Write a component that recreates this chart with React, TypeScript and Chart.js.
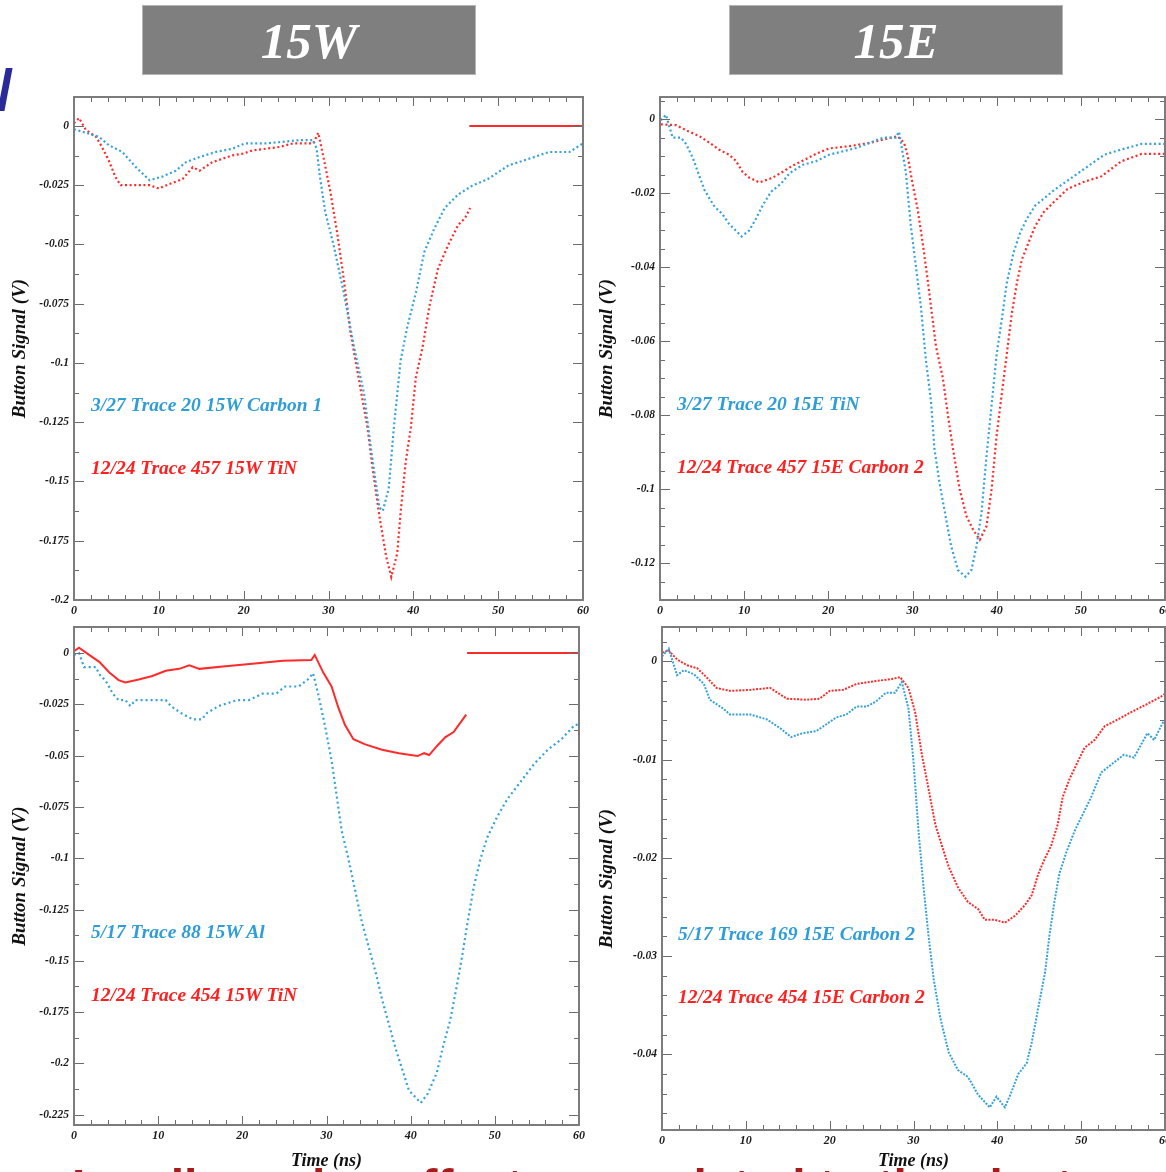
import React, { useEffect, useRef } from 'react';
import { Chart, registerables } from 'chart.js';

Chart.register(...registerables);

type Pt = [number, number];

// ---------- tick / axis values ----------
const TIME_MIN = 0;
const TIME_MAX = 60;
const TIME_STEP = 10;
const TIME_MINOR = 2;
const X_TITLE = 'Time (ns)';
const Y_TITLE = 'Button Signal (V)';
const HEADERS = ['15W', '15E'];

// ---------- 15W, top panel ----------
const tlBlue: Pt[] = [
  [0, -0.0014], [2.95, -0.0046], [4.1, -0.0081], [5.7, -0.011], [7.3, -0.0174], [8.9, -0.0229],
  [10.4, -0.0214], [12.0, -0.0189], [13.2, -0.0153], [14.8, -0.0131], [16.7, -0.011], [18.7, -0.0096],
  [20.1, -0.0074], [22.6, -0.0074], [24.6, -0.0067], [26.6, -0.006], [28.2, -0.006], [28.6, -0.0096],
  [29.0, -0.0217], [29.6, -0.036], [30.6, -0.0503], [31.8, -0.0703], [33.0, -0.0931], [34.2, -0.1131],
  [35.0, -0.136], [36.0, -0.161], [36.4, -0.1624], [37.1, -0.153], [37.7, -0.1274], [38.5, -0.0989],
  [39.3, -0.0846], [40.3, -0.0703], [41.3, -0.0531], [42.5, -0.0431], [43.7, -0.0346], [45.3, -0.0289],
  [46.9, -0.0253], [48.8, -0.0224], [51.2, -0.0167], [53.6, -0.0139], [56.0, -0.011], [58.4, -0.011],
  [60, -0.0074],
];
const tlRed: Pt[] = [
  [0, 0.0011], [0.6, 0.0033], [1.4, -0.0017], [2.6, -0.0046], [3.3, -0.0089], [4.1, -0.0146],
  [4.9, -0.0217], [5.5, -0.025], [8.9, -0.025], [10.0, -0.0264], [11.2, -0.0246], [12.8, -0.0224],
  [14.0, -0.0174], [14.8, -0.0189], [16.3, -0.0153], [18.7, -0.0124], [19.9, -0.0117], [21.1, -0.0103],
  [24.2, -0.0089], [25.8, -0.0074], [28.2, -0.0074], [28.8, -0.0029], [29.4, -0.0131], [30.2, -0.0274],
  [31.0, -0.0446], [31.8, -0.0646], [32.6, -0.0874], [33.6, -0.1074], [34.6, -0.1274], [35.2, -0.1446],
  [36.0, -0.1646], [36.8, -0.1817], [37.4, -0.1903], [38.1, -0.1803], [38.5, -0.1631], [39.1, -0.1417],
  [39.7, -0.1274], [40.3, -0.106], [41.1, -0.0931], [41.9, -0.076], [42.9, -0.0603], [44.1, -0.0503],
  [45.3, -0.0417], [46.1, -0.0389], [46.7, -0.0346],
];
const tlRedBaseline: Pt[] = [[46.6, 0], [60, 0]];

// ---------- 15E, top panel ----------
const trBlue: Pt[] = [
  [0.1, -0.0003], [0.7, 0.0012], [1.5, -0.005], [2.5, -0.005], [3.1, -0.0067], [3.9, -0.0105],
  [4.7, -0.0155], [5.3, -0.0192], [5.9, -0.0215], [6.5, -0.0237], [7.4, -0.0256], [8.2, -0.0283],
  [9.0, -0.0301], [9.7, -0.0317], [10.6, -0.0301], [11.4, -0.0269], [12.2, -0.0233], [13.2, -0.0196],
  [14.4, -0.0174], [15.4, -0.0146], [17.0, -0.0123], [18.5, -0.0114], [20.1, -0.0096], [23.3, -0.0078],
  [26.5, -0.005], [28.0, -0.005], [28.4, -0.0034], [29.2, -0.0142], [29.8, -0.0288], [30.4, -0.0397],
  [31.0, -0.0507], [31.6, -0.0653], [32.2, -0.0763], [32.6, -0.089], [33.2, -0.0982], [34.0, -0.1082],
  [34.6, -0.1155], [35.4, -0.1219], [36.3, -0.1237], [37.0, -0.1219], [37.6, -0.1155], [38.2, -0.1064],
  [38.8, -0.0909], [39.4, -0.0772], [40.0, -0.0635], [40.6, -0.0543], [41.2, -0.0443], [42.0, -0.0361],
  [42.8, -0.0306], [43.6, -0.0269], [44.6, -0.0233], [45.6, -0.0215], [46.8, -0.0192], [48.8, -0.016],
  [50.8, -0.0128], [52.8, -0.0096], [54.8, -0.0082], [57.2, -0.0067], [60, -0.0067],
];
const trRed: Pt[] = [
  [0.1, -0.0014], [1.9, -0.0016], [3.3, -0.0032], [4.7, -0.0046], [5.9, -0.0064], [7.0, -0.0082],
  [8.2, -0.0096], [9.0, -0.0112], [9.8, -0.0142], [10.6, -0.0158], [11.8, -0.0171], [13.4, -0.0158],
  [14.6, -0.0142], [15.8, -0.0125], [17.0, -0.0112], [18.5, -0.0094], [20.1, -0.0079], [22.5, -0.0073],
  [24.9, -0.0064], [28.2, -0.0046], [29.0, -0.0064], [29.4, -0.0096], [30.0, -0.0174], [30.6, -0.0242],
  [31.2, -0.0333], [31.8, -0.0434], [32.2, -0.0507], [32.8, -0.0616], [33.6, -0.0699], [34.2, -0.0799],
  [34.8, -0.089], [35.6, -0.1], [36.4, -0.1073], [37.2, -0.111], [38.0, -0.1137], [38.8, -0.11],
  [39.4, -0.1], [40.0, -0.0854], [40.6, -0.0744], [41.2, -0.0635], [41.8, -0.0525], [42.4, -0.0443],
  [43.0, -0.0379], [43.8, -0.0333], [44.6, -0.0288], [45.6, -0.0251], [46.8, -0.0224], [48.4, -0.0189],
  [50.4, -0.0169], [52.4, -0.0155], [54.8, -0.0114], [57.2, -0.0094], [60, -0.0094],
];

// ---------- 15W, bottom panel ----------
const blBlue: Pt[] = [
  [0, -0.0009], [0.6, 0], [1.2, -0.0069], [2.6, -0.0069], [3.0, -0.0103], [3.8, -0.0137],
  [4.6, -0.0198], [5.3, -0.0229], [6.1, -0.0229], [6.7, -0.0258], [7.3, -0.0229], [10.9, -0.0229],
  [11.5, -0.0258], [12.7, -0.0292], [14.1, -0.0323], [15.2, -0.0323], [15.8, -0.0292], [17.2, -0.0258],
  [19.4, -0.0229], [20.8, -0.0229], [22.4, -0.0198], [24.0, -0.0198], [25.1, -0.0163], [26.7, -0.0163],
  [27.8, -0.0128], [28.4, -0.0098], [29.0, -0.0197], [29.8, -0.0351], [30.6, -0.0522], [31.2, -0.0693],
  [31.8, -0.0865], [32.6, -0.1002], [33.4, -0.1156], [34.2, -0.131], [35.0, -0.143], [35.8, -0.155],
  [36.6, -0.1687], [37.4, -0.1807], [38.2, -0.1926], [39.0, -0.2029], [39.8, -0.2132], [40.6, -0.2166],
  [41.2, -0.2192], [42.0, -0.2149], [43.1, -0.2046], [43.9, -0.1909], [44.7, -0.1789], [45.5, -0.1618],
  [46.1, -0.1481], [46.7, -0.1327], [47.5, -0.1139], [48.3, -0.1002], [49.1, -0.0899], [50.3, -0.0796],
  [51.5, -0.0711], [53.1, -0.0625], [54.7, -0.0539], [56.3, -0.0471], [57.9, -0.042], [59.5, -0.0351],
  [60, -0.0348],
];
const blRed: Pt[] = [
  [0, 0.0009], [0.6, 0.0026], [1.8, -0.0009], [3.0, -0.0043], [4.2, -0.0095], [5.3, -0.0132],
  [6.1, -0.0143], [7.7, -0.0129], [9.3, -0.0112], [10.9, -0.0086], [12.5, -0.0077], [13.7, -0.006],
  [14.9, -0.0077], [18.0, -0.0064], [21.2, -0.0052], [24.8, -0.0038], [28.2, -0.0034], [28.6, -0.0009],
  [29.6, -0.0094], [30.6, -0.0163], [31.4, -0.0265], [32.2, -0.0351], [33.2, -0.042], [34.6, -0.0445],
  [36.6, -0.0471], [38.6, -0.0488], [40.8, -0.0502], [41.6, -0.0488], [42.2, -0.0497], [43.1, -0.0454],
  [44.1, -0.0411], [45.1, -0.0385], [46.3, -0.0317], [46.6, -0.03],
];
const blRedBaseline: Pt[] = [[46.7, 0], [60, 0]];

// ---------- 15E, bottom panel ----------
const brBlue: Pt[] = [
  [0, 0.0005], [0.8, 0.0013], [1.8, -0.0014], [2.6, -0.0009], [3.8, -0.0013], [5.0, -0.0023],
  [5.7, -0.0039], [7.3, -0.0048], [8.1, -0.0054], [10.5, -0.0054], [12.5, -0.0059], [14.1, -0.0068],
  [15.4, -0.0077], [16.8, -0.0073], [18.4, -0.0071], [19.6, -0.0064], [20.8, -0.0057], [22.0, -0.0054],
  [23.2, -0.0046], [24.4, -0.0046], [25.5, -0.0041], [26.7, -0.0032], [27.8, -0.0032], [28.6, -0.0021],
  [29.4, -0.0048], [30.0, -0.0102], [30.6, -0.0173], [31.2, -0.023], [31.8, -0.028], [32.4, -0.0323],
  [33.2, -0.0363], [34.2, -0.0398], [35.3, -0.0416], [36.5, -0.0423], [37.7, -0.0441], [39.1, -0.0454],
  [39.9, -0.0443], [40.9, -0.0454], [41.7, -0.0438], [42.5, -0.042], [43.5, -0.0409], [44.1, -0.0388],
  [44.9, -0.0352], [45.7, -0.0316], [46.2, -0.028], [46.8, -0.0245], [47.4, -0.0216], [48.2, -0.0195],
  [49.2, -0.0173], [50.0, -0.0159], [51.2, -0.0138], [52.4, -0.0113], [53.6, -0.0105], [55.1, -0.0095],
  [56.3, -0.0098], [57.9, -0.0073], [58.7, -0.008], [59.7, -0.0063], [60, -0.006],
];
const brRed: Pt[] = [
  [0, 0.0009], [0.8, 0.0011], [1.8, 0.0002], [3.0, -0.0004], [4.2, -0.0007], [5.3, -0.0016],
  [6.5, -0.0027], [8.1, -0.003], [10.5, -0.0029], [12.9, -0.0027], [14.9, -0.0038], [17.2, -0.0039],
  [18.8, -0.0038], [20.0, -0.003], [21.6, -0.0029], [23.2, -0.0023], [25.5, -0.002], [27.4, -0.0018],
  [28.4, -0.0016], [29.4, -0.0027], [30.2, -0.0052], [31.0, -0.0095], [31.8, -0.013], [32.6, -0.0166],
  [33.4, -0.0188], [34.2, -0.0209], [35.3, -0.023], [36.5, -0.0245], [37.7, -0.0252], [38.5, -0.0263],
  [39.7, -0.0263], [40.9, -0.0266], [42.1, -0.0259], [43.3, -0.0248], [44.1, -0.0238], [44.9, -0.0216],
  [45.6, -0.0202], [46.4, -0.0188], [47.2, -0.0166], [47.8, -0.0138], [48.6, -0.012], [49.6, -0.0102],
  [50.4, -0.0088], [51.6, -0.008], [52.8, -0.0066], [54.4, -0.0059], [55.9, -0.0052], [57.5, -0.0045],
  [59.5, -0.0036], [60, -0.0033],
];

// ---------- labels ----------
const tlLabels = ['3/27 Trace 20 15W Carbon 1', '12/24 Trace 457 15W TiN'];
const trLabels = ['3/27 Trace 20 15E TiN', '12/24 Trace 457 15E Carbon 2'];
const blLabels = ['5/17 Trace 88 15W Al', '12/24 Trace 454 15W TiN'];
const brLabels = ['5/17 Trace 169 15E Carbon 2', '12/24 Trace 454 15E Carbon 2'];

// ---------- styles ----------
const SERIF = "'Liberation Serif', 'DejaVu Serif', 'Times New Roman', serif";
const SANS = "'Liberation Sans', Arial, 'DejaVu Sans', sans-serif";
const BLUE = '#35a2da';
const RED = '#ff2a2a';
const TXT_BLUE = '#2f9dd8';
const TXT_RED = '#ff1f1f';

type SeriesSpec = { data: Pt[]; color: string; dash: number[]; width: number };
type PanelSpec = {
  left: number; top: number; width: number; height: number;
  padTop: number; padRight: number; yWidth: number; xHeight: number;
  yMin: number; yMax: number; yStep: number; yMinor: number;
  yTitlePad: number; showXTitle: boolean; xTitlePad: number;
  series: SeriesSpec[];
};

const fmt = (v: number) => {
  if (Math.abs(v) < 1e-12) return '0';
  return String(parseFloat(v.toFixed(4)));
};

const isMultiple = (v: number, step: number) => Math.abs(v / step - Math.round(v / step)) < 1e-6;

const framePlugin = {
  id: 'rootFrame',
  afterDatasetsDraw(chart: any, _args: any, opts: any) {
    const { ctx, chartArea: a } = chart;
    const xs = chart.scales.x;
    const ys = chart.scales.y;
    ctx.save();
    ctx.strokeStyle = '#6c6c6c';
    ctx.lineWidth = 1;
    ctx.beginPath();
    for (let i = Math.ceil(xs.min / opts.xMinor - 1e-6); i * opts.xMinor <= xs.max + 1e-9; i++) {
      const v = i * opts.xMinor;
      const len = isMultiple(v, opts.xMajor) ? 9 : 5;
      const p = Math.round(xs.getPixelForValue(v)) + 0.5;
      ctx.moveTo(p, a.bottom); ctx.lineTo(p, a.bottom - len);
      ctx.moveTo(p, a.top); ctx.lineTo(p, a.top + len);
    }
    for (let i = Math.ceil(ys.min / opts.yMinor - 1e-6); i * opts.yMinor <= ys.max + 1e-9; i++) {
      const v = i * opts.yMinor;
      const len = isMultiple(v, opts.yMajor) ? 10 : 5;
      const p = Math.round(ys.getPixelForValue(v)) + 0.5;
      ctx.moveTo(a.left, p); ctx.lineTo(a.left + len, p);
      ctx.moveTo(a.right, p); ctx.lineTo(a.right - len, p);
    }
    ctx.stroke();
    ctx.lineWidth = 2;
    ctx.strokeStyle = '#7c7c7c';
    ctx.strokeRect(a.left, a.top, a.right - a.left, a.bottom - a.top);
    ctx.restore();
  },
};

const tickFont = { family: SERIF, size: 11.5, style: 'italic' as const, weight: 'bold' as const };

function Panel({ spec }: { spec: PanelSpec }) {
  const ref = useRef<HTMLCanvasElement | null>(null);
  useEffect(() => {
    if (!ref.current) return;
    const chart = new Chart(ref.current, {
      type: 'scatter',
      data: {
        datasets: spec.series.map((s) => ({
          data: s.data.map(([x, y]) => ({ x, y })),
          showLine: true,
          borderColor: s.color,
          backgroundColor: s.color,
          borderWidth: s.width,
          borderDash: s.dash,
          pointRadius: 0,
          tension: 0,
        })),
      },
      options: {
        responsive: false,
        animation: false,
        devicePixelRatio: 1,
        layout: { padding: { top: spec.padTop, right: spec.padRight, left: 0, bottom: 0 } },
        plugins: {
          legend: { display: false },
          tooltip: { enabled: false },
          rootFrame: { xMajor: TIME_STEP, xMinor: TIME_MINOR, yMajor: spec.yStep, yMinor: spec.yMinor },
        } as any,
        scales: {
          x: {
            type: 'linear',
            min: TIME_MIN,
            max: TIME_MAX,
            grid: { display: false, drawTicks: false },
            border: { display: false },
            ticks: {
              stepSize: TIME_STEP, padding: 4, color: '#1a1a1a', font: { ...tickFont, size: 12 },
              maxRotation: 0, autoSkip: false, includeBounds: false, callback: (v: any) => fmt(Number(v)),
            },
            title: {
              display: spec.showXTitle, text: X_TITLE, color: '#111',
              font: { family: SERIF, size: 18, style: 'italic', weight: 'bold' },
              padding: { top: 0, bottom: spec.xTitlePad },
            },
            afterFit: (sc: any) => { sc.height = spec.xHeight; },
          },
          y: {
            type: 'linear',
            min: spec.yMin,
            max: spec.yMax,
            grid: { display: false, drawTicks: false },
            border: { display: false },
            ticks: {
              stepSize: spec.yStep, padding: 5, color: '#1a1a1a', font: tickFont,
              autoSkip: false, includeBounds: false, callback: (v: any) => fmt(Number(v)),
            },
            title: {
              display: true, text: Y_TITLE, color: '#111',
              font: { family: SERIF, size: 19, style: 'italic', weight: 'bold' },
              padding: { top: spec.yTitlePad, bottom: 0 },
            },
            afterFit: (sc: any) => { sc.width = spec.yWidth; },
          },
        },
      },
      plugins: [framePlugin as any],
    });
    return () => chart.destroy();
  }, [spec]);
  return (
    <canvas
      ref={ref}
      width={spec.width}
      height={spec.height}
      style={{ position: 'absolute', left: spec.left, top: spec.top, width: spec.width, height: spec.height, display: 'block' }}
    />
  );
}

const DOT_TOP = [2, 2.6];
const DOT_DENSE = [2, 1.4];

const panels: PanelSpec[] = [
  {
    left: 0, top: 85, width: 600, height: 540, padTop: 12, padRight: 17, yWidth: 74, xHeight: 25,
    yMin: -0.2, yMax: 0.0122, yStep: 0.025, yMinor: 0.0125, yTitlePad: 9, showXTitle: false, xTitlePad: 0,
    series: [
      { data: tlBlue, color: BLUE, dash: DOT_TOP, width: 2.2 },
      { data: tlRed, color: RED, dash: DOT_TOP, width: 2.2 },
      { data: tlRedBaseline, color: RED, dash: [], width: 2 },
    ],
  },
  {
    left: 590, top: 85, width: 590, height: 540, padTop: 12, padRight: 15, yWidth: 70, xHeight: 25,
    yMin: -0.13, yMax: 0.006, yStep: 0.02, yMinor: 0.005, yTitlePad: 6, showXTitle: false, xTitlePad: 0,
    series: [
      { data: trBlue, color: BLUE, dash: DOT_TOP, width: 2.2 },
      { data: trRed, color: RED, dash: DOT_TOP, width: 2.2 },
    ],
  },
  {
    left: 0, top: 615, width: 600, height: 557, padTop: 12, padRight: 21, yWidth: 74, xHeight: 47,
    yMin: -0.23, yMax: 0.0127, yStep: 0.025, yMinor: 0.0125, yTitlePad: 9, showXTitle: true, xTitlePad: 0,
    series: [
      { data: blBlue, color: BLUE, dash: [2, 3], width: 2.2 },
      { data: blRed, color: RED, dash: [], width: 2 },
      { data: blRedBaseline, color: RED, dash: [], width: 2 },
    ],
  },
  {
    left: 590, top: 615, width: 590, height: 557, padTop: 12, padRight: 15, yWidth: 72, xHeight: 42,
    yMin: -0.0477, yMax: 0.0035, yStep: 0.01, yMinor: 0.002, yTitlePad: 6, showXTitle: true, xTitlePad: 0,
    series: [
      { data: brBlue, color: BLUE, dash: DOT_DENSE, width: 2 },
      { data: brRed, color: RED, dash: DOT_DENSE, width: 2 },
    ],
  },
];

const annotations = [
  { labels: tlLabels, left: 91, top: [405, 468] },
  { labels: trLabels, left: 677, top: [404, 467] },
  { labels: blLabels, left: 91, top: [932, 995] },
  { labels: brLabels, left: 678, top: [934, 997] },
];

const headerBoxes = [
  { text: HEADERS[0], left: 142 },
  { text: HEADERS[1], left: 729 },
];

export default function App() {
  return (
    <div style={{ position: 'absolute', left: 0, top: 0, width: 1166, height: 1172, overflow: 'hidden', background: '#fff' }}>
      {headerBoxes.map((h) => (
        <div
          key={h.text}
          style={{
            position: 'absolute', left: h.left, top: 5, width: 334, height: 70, boxSizing: 'border-box',
            background: '#7f7f7f', border: '1px solid #b5b5b5', display: 'flex', alignItems: 'center',
            justifyContent: 'center', color: '#fff', fontFamily: SERIF, fontStyle: 'italic', fontWeight: 'bold',
            fontSize: 51, lineHeight: '51px', paddingTop: 3,
          }}
        >
          {h.text}
        </div>
      ))}
      <div
        style={{
          position: 'absolute', left: -3, top: 60, fontFamily: SANS, fontWeight: 'bold', fontSize: 58,
          lineHeight: '60px', color: '#2a2a98',
        }}
      >
        /
      </div>
      {panels.map((p, i) => (
        <Panel key={i} spec={p} />
      ))}
      {annotations.map((a, i) =>
        a.labels.map((t, j) => (
          <div
            key={`${i}-${j}`}
            style={{
              position: 'absolute', left: a.left, top: a.top[j] - 12, height: 24, lineHeight: '24px',
              whiteSpace: 'nowrap', fontFamily: SERIF, fontStyle: 'italic', fontWeight: 'bold', fontSize: 19.5,
              color: j === 0 ? TXT_BLUE : TXT_RED,
            }}
          >
            {t}
          </div>
        ))
      )}
      <div
        style={{
          position: 'absolute', left: 72, top: 1163, whiteSpace: 'nowrap', fontFamily: SANS, fontWeight: 'bold',
          fontSize: 48, lineHeight: '48px', color: '#a91b1b',
        }}
      >
        Leading edge effects are related to the electron cloud build-up
      </div>
    </div>
  );
}
